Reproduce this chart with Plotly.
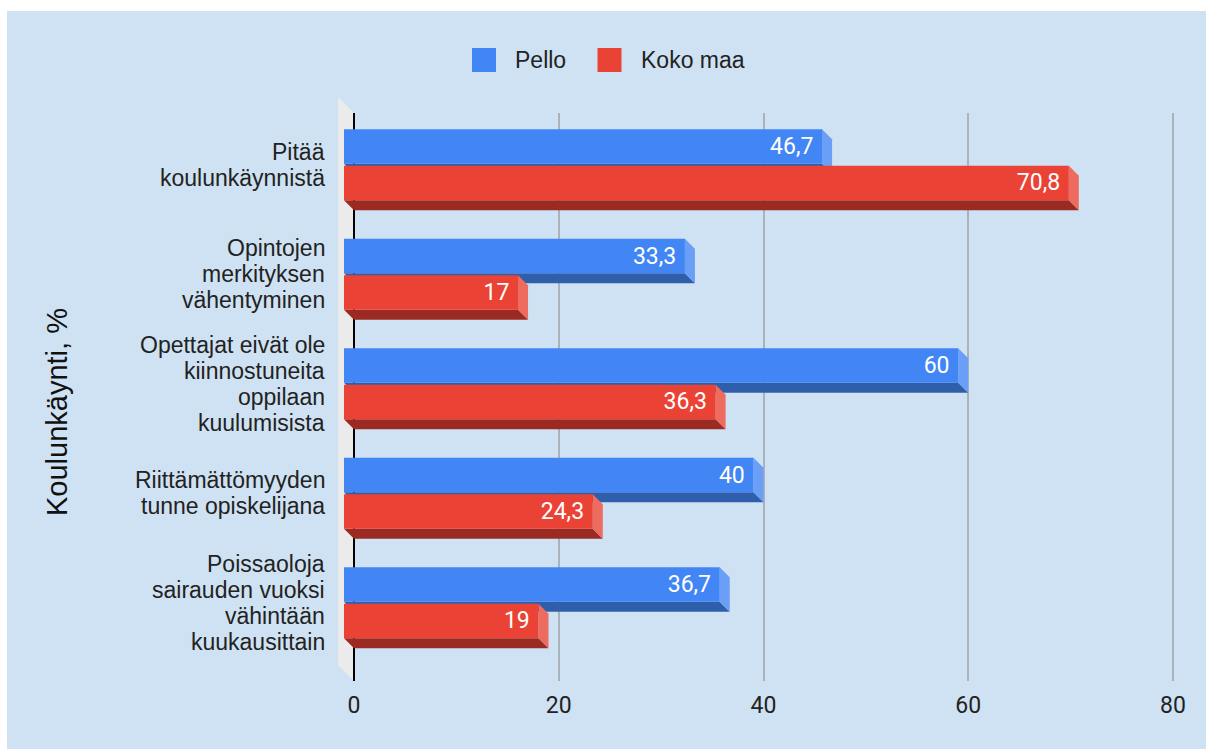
import plotly.graph_objects as go

# ---------------- data ----------------
categories = [
    "Pitää<br>koulunkäynnistä",
    "Opintojen<br>merkityksen<br>vähentyminen",
    "Opettajat eivät ole<br>kiinnostuneita<br>oppilaan<br>kuulumisista",
    "Riittämättömyyden<br>tunne opiskelijana",
    "Poissaoloja<br>sairauden vuoksi<br>vähintään<br>kuukausittain",
]
series_names = ["Pello", "Koko maa"]
pello = [46.7, 33.3, 60, 40, 36.7]
koko_maa = [70.8, 17, 36.3, 24.3, 19]
x_ticks = [0, 20, 40, 60, 80]
y_title = "Koulunkäynti, %"

# ---------------- styling / geometry ----------------
W, H = 1206, 749
L, R, T, B = 338, 30, 113, 68
PW, PH = W - L - R, H - T - B
PX_PER_UNIT = 819 / 80.0
XMIN = -16 / PX_PER_UNIT
XMAX = XMIN + PW / PX_PER_UNIT
CAT_PX = 109.5
Y_TOP = (164.5 - T) / CAT_PX
Y_BOT = -((H - B) - 164.5) / CAT_PX
DX = 10 / PX_PER_UNIT
DY = 10 / CAT_PX
BAR_W = 34.5 / CAT_PX
OFFSETS = [(164.5 - 163.8) / CAT_PX, (164.5 - 200.2) / CAT_PX]
LABEL_SIZE = 23
LINE_H = 26.0 / CAT_PX

FRONT = ["#4285f4", "#ea4335"]
BOTTOM = ["#2f5faa", "#9b2a23"]
SIDE = ["#6b9ef6", "#ee6b60"]
BG = "#cfe2f3"
WALL = "#ebebeb"
GRID = "#aab2ba"
TXT = "#222222"


def xp(px):
    return (px - L) / PW


def yp(py):
    return ((H - B) - py) / PH


def fmt(v):
    s = ("%g" % v).replace(".", ",")
    return s + "\u00a0"


positions = [-i for i in range(len(categories))]
series_values = [pello, koko_maa]

fig = go.Figure()
shapes = []

# background with white margin and the 3D left wall
shapes.append(dict(type="rect", xref="paper", yref="paper", layer="below",
                   x0=xp(7), x1=xp(W), y0=yp(H), y1=yp(11),
                   fillcolor=BG, line=dict(width=0)))
shapes.append(dict(type="path", xref="paper", yref="paper", layer="below",
                   path="M %f,%f L %f,%f L %f,%f L %f,%f Z" % (
                       xp(L), yp(T - 16), xp(L + 16), yp(T),
                       xp(L + 16), yp(H - B), xp(L), yp(H - B - 16)),
                   fillcolor=WALL, line=dict(width=0)))

for s, (name, vals) in enumerate(zip(series_names, series_values)):
    fig.add_trace(go.Bar(
        name=name, x=vals, y=positions, base=-DX, orientation="h",
        offset=OFFSETS[s], width=BAR_W,
        marker=dict(color=FRONT[s], line=dict(width=0)),
        text=[fmt(v) for v in vals], textposition="inside",
        insidetextanchor="end",
        textfont=dict(family="Roboto", size=23, color="white"),
        showlegend=False, hoverinfo="skip"))
    # depth faces (bottom and right side) computed from the same values
    for pos, v in zip(positions, vals):
        x0f, x1f = -DX, v - DX
        yb = pos + OFFSETS[s]
        yt = yb + BAR_W
        shapes.append(dict(type="path", xref="x", yref="y", layer="between",
                           path="M %f,%f L %f,%f L %f,%f L %f,%f Z" % (
                               x0f, yb, x1f, yb, x1f + DX, yb - DY, x0f + DX, yb - DY),
                           fillcolor=BOTTOM[s], line=dict(width=0)))
        shapes.append(dict(type="path", xref="x", yref="y", layer="between",
                           path="M %f,%f L %f,%f L %f,%f L %f,%f Z" % (
                               x1f, yt, x1f + DX, yt - DY, x1f + DX, yb - DY, x1f, yb),
                           fillcolor=SIDE[s], line=dict(width=0)))

annotations = []
# category labels
for pos, lab in zip(positions, categories):
    lines = lab.split("<br>")
    n = len(lines)
    for j, line in enumerate(lines):
        annotations.append(dict(
            text=line, xref="paper", yref="y", x=xp(326),
            y=pos + ((n - 1) / 2.0 - j) * LINE_H,
            xanchor="right", yanchor="middle", showarrow=False, borderpad=0,
            font=dict(family="Liberation Sans", size=LABEL_SIZE, color=TXT)))

# axis title
annotations.append(dict(text=y_title, xref="paper", yref="paper",
                        x=xp(57), y=yp(412), textangle=-90,
                        xanchor="center", yanchor="middle", showarrow=False,
                        font=dict(family="Liberation Sans", size=29, color="#111111")))

# legend
leg_sq_x = [472, 597.5]
leg_txt_x = [513, 639]
for s, name in enumerate(series_names):
    shapes.append(dict(type="rect", xref="paper", yref="paper", layer="above",
                       x0=xp(leg_sq_x[s]), x1=xp(leg_sq_x[s] + 24),
                       y0=yp(72), y1=yp(48),
                       fillcolor=FRONT[s], line=dict(width=0)))
    annotations.append(dict(text=name, xref="paper", yref="paper",
                            x=xp(leg_txt_x[s]), y=yp(60),
                            xanchor="left", yanchor="middle", showarrow=False,
                            font=dict(family="Liberation Sans", size=23, color=TXT)))

fig.update_layout(
    width=W, height=H,
    margin=dict(l=L, r=R, t=T, b=B, pad=0),
    paper_bgcolor="white", plot_bgcolor=BG,
    barmode="overlay", showlegend=False,
    shapes=shapes, annotations=annotations,
    xaxis=dict(range=[XMIN, XMAX], tickvals=x_ticks,
               ticktext=[str(t) for t in x_ticks],
               showgrid=True, gridcolor=GRID, gridwidth=1.5,
               zeroline=True, zerolinecolor="#000000", zerolinewidth=2,
               showline=False, ticks="", ticklabelstandoff=8,
               tickfont=dict(family="Roboto", size=23, color=TXT),
               fixedrange=True),
    yaxis=dict(range=[Y_BOT, Y_TOP], showticklabels=False, showgrid=False,
               zeroline=False, showline=False, ticks="", fixedrange=True),
)

fig.write_html("out.html", config={"displayModeBar": False},
               post_script="document.body.style.margin='0';document.body.style.padding='0';")
